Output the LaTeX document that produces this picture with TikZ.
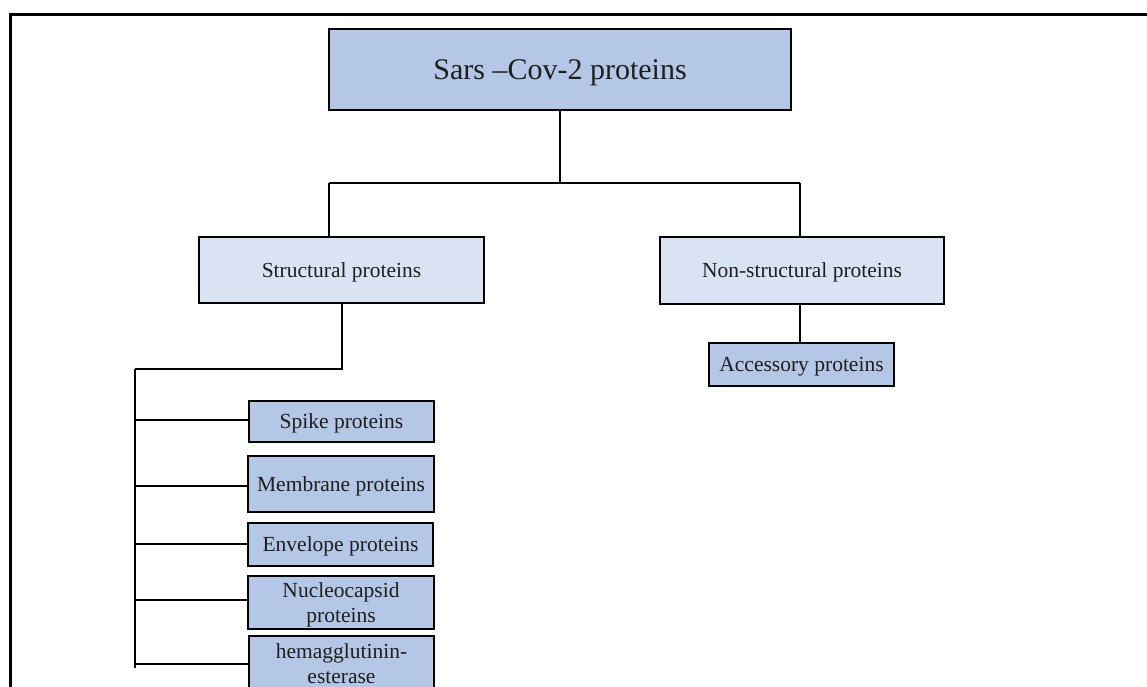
\documentclass[tikz,border=0pt]{standalone}
\usepackage{fontspec}
\setmainfont{Liberation Serif}
\definecolor{boxdark}{HTML}{B4C7E7}
\definecolor{boxlight}{HTML}{DAE3F3}
\definecolor{inktext}{HTML}{1E1E1E}
\tikzset{
  pbox/.style={draw=black, line width=1.5pt, inner sep=0pt, outer sep=0pt,
    align=center, text=inktext, text depth=0pt, font=\fontsize{21.5}{25}\selectfont},
  darkbox/.style={pbox, fill=boxdark},
  lightbox/.style={pbox, fill=boxlight},
  link/.style={draw=black, line width=1.5pt}
}
\begin{document}
\begin{tikzpicture}[x=1pt,y=-1pt]
  \clip (0,0) rectangle (1147,686);
  \fill[white] (0,0) rectangle (1147,686);
  % page frame (only its top and left edges fall inside)
  \draw[line width=3pt] (10,700) -- (10,14) -- (1160,14);

  % boxes
  \node[darkbox, minimum width=462pt, minimum height=81pt,
        font=\fontsize{30}{36}\selectfont] (top) at (560,69.5) {Sars \textendash Cov-2 proteins};
  \node[lightbox, minimum width=285pt, minimum height=66pt] (struct) at (341.5,270) {Structural proteins};
  \node[lightbox, minimum width=284pt, minimum height=67pt] (nonstruct) at (802,270.5) {Non-structural proteins};
  \node[darkbox, minimum width=185pt, minimum height=43pt] (access) at (801.5,364.5) {Accessory proteins};

  \node[darkbox, minimum width=185pt, minimum height=41pt] (spike) at (341.5,421.5) {Spike proteins};
  \node[darkbox, minimum width=186pt, minimum height=56pt] (membrane) at (341,484) {Membrane proteins};
  \node[darkbox, minimum width=185pt, minimum height=43pt] (envelope) at (340.5,544.5) {Envelope proteins};
  \node[darkbox, minimum width=186pt, minimum height=53pt] (nucleo) at (341,602.5) {Nucleocapsid\\proteins};
  \node[darkbox, minimum width=185pt, minimum height=55pt] (hemag) at (341.5,663.5) {hemagglutinin-\\esterase};

  % top level split
  \coordinate (hl) at (329,183);
  \coordinate (hr) at (800,183);
  \draw[link] (top.south) -- (top.south |- hl);
  \draw[link] (hl) -- (hr);
  \draw[link] (hl) -- (hl |- struct.north);
  \draw[link] (hr) -- (hr |- nonstruct.north);
  \draw[link] (nonstruct.south -| hr) -- (hr |- access.north);

  % structural proteins tree
  \coordinate (sdown) at (342,369);
  \coordinate (ttop) at (135,369);
  \coordinate (tbot) at (135,668);
  \draw[link] (struct.south -| sdown) -- (sdown) -- (ttop);
  \draw[link] (ttop) -- (tbot);
  \draw[link] (135,420) -- (spike.west |- 0,420);
  \draw[link] (135,486) -- (membrane.west |- 0,486);
  \draw[link] (135,544) -- (envelope.west |- 0,544);
  \draw[link] (135,600) -- (nucleo.west |- 0,600);
  \draw[link] (135,664) -- (hemag.west |- 0,664);
\end{tikzpicture}
\end{document}
